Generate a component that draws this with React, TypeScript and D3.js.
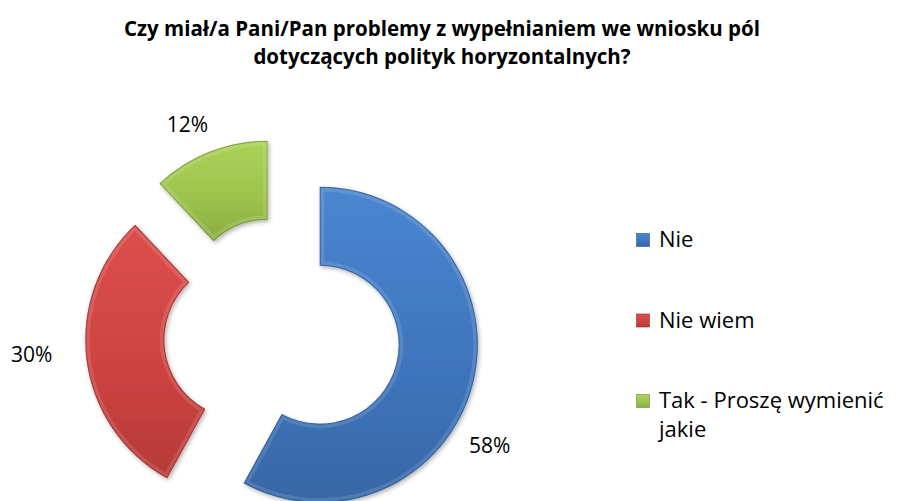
import { useEffect, useRef } from "react";
import * as d3 from "d3";

const categories = ["Nie", "Nie wiem", "Tak - Proszę wymienić jakie"];
const values = [58, 30, 12];
const labels = ["58%", "30%", "12%"];
const colors = ["#3e74bb", "#cc4240", "#9cc24b"];
const lightColors = ["#4a86d0", "#dc4f4c", "#abd35a"];
const darkColors = ["#2a548c", "#962a28", "#6b8a2a"];

const title = [
  "Czy miał/a Pani/Pan problemy z wypełnianiem we wniosku pól",
  "dotyczących polityk horyzontalnych?",
];

export default function App() {
  const svgRef = useRef<SVGSVGElement>(null);

  useEffect(() => {
    if (!svgRef.current) return;
    const width = 898;
    const height = 501;
    const cx = 282;
    const cy = 335;
    const outer = 158;
    const inner = 79;
    const explode = 39;
    // per-slice label placement (radius, angle nudge in radians)
    const labelRadius = [235, 251, 231];
    const labelShift = [0.236, 0.05, -0.045];
    const font = "'Open Sans', Lato, sans-serif";

    const svg = d3.select(svgRef.current);
    svg.selectAll("*").remove();
    svg.attr("width", width).attr("height", height);

    const defs = svg.append("defs");
    colors.forEach((c, i) => {
      const g = defs
        .append("linearGradient")
        .attr("id", `grad${i}`)
        .attr("x1", "0")
        .attr("y1", "0")
        .attr("x2", "0")
        .attr("y2", "1");
      g.append("stop").attr("offset", "0%").attr("stop-color", lightColors[i]);
      g.append("stop").attr("offset", "60%").attr("stop-color", c);
      g.append("stop").attr("offset", "100%").attr("stop-color", d3.color(c)!.darker(0.35).formatHex());
    });
    const shadow = defs
      .append("filter")
      .attr("id", "shadow")
      .attr("x", "-20%")
      .attr("y", "-20%")
      .attr("width", "140%")
      .attr("height", "140%");
    shadow
      .append("feDropShadow")
      .attr("dx", 1.5)
      .attr("dy", 2)
      .attr("stdDeviation", 2)
      .attr("flood-color", "#000")
      .attr("flood-opacity", 0.3);

    // title, two separate lines
    title.forEach((line, i) => {
      svg
        .append("text")
        .attr("text-anchor", "middle")
        .attr("font-family", font)
        .attr("font-weight", "bold")
        .attr("font-size", 20.5)
        .attr("fill", "#000")
        .attr("x", 442)
        .attr("y", 36 + i * 28)
        .text(line);
    });

    const pie = d3
      .pie<number>()
      .sort(null)
      .value((d) => d);
    const arcs = pie(values);
    const arc = d3.arc<d3.PieArcDatum<number>>().innerRadius(inner).outerRadius(outer);

    const g = svg.append("g").attr("transform", `translate(${cx},${cy})`);

    arcs.forEach((a, i) => {
      const mid = (a.startAngle + a.endAngle) / 2;
      const ox = Math.sin(mid) * explode;
      const oy = -Math.cos(mid) * explode;
      const sg = g.append("g").attr("transform", `translate(${ox},${oy})`);
      sg.append("path")
        .attr("d", arc(a) || "")
        .attr("fill", `url(#grad${i})`)
        .attr("filter", "url(#shadow)");
      // bevel: dark rim + soft light band inside
      const clipId = `clip${i}`;
      defs.append("clipPath").attr("id", clipId).append("path").attr("d", arc(a) || "");
      sg.append("path")
        .attr("d", arc(a) || "")
        .attr("fill", "none")
        .attr("stroke", "#fff")
        .attr("stroke-opacity", 0.12)
        .attr("stroke-width", 9)
        .attr("clip-path", `url(#${clipId})`);
      sg.append("path")
        .attr("d", arc(a) || "")
        .attr("fill", "none")
        .attr("stroke", darkColors[i])
        .attr("stroke-opacity", 0.7)
        .attr("stroke-width", 2)
        .attr("clip-path", `url(#${clipId})`);

      const la = mid + labelShift[i];
      g.append("text")
        .attr("x", Math.sin(la) * labelRadius[i])
        .attr("y", -Math.cos(la) * labelRadius[i])
        .attr("text-anchor", "middle")
        .attr("dominant-baseline", "central")
        .attr("font-family", font)
        .attr("font-size", 21)
        .attr("fill", "#000")
        .text(labels[i]);
    });

    // legend
    const legendY = d3.scalePoint<string>().domain(categories).range([247, 408]);
    categories.forEach((c, i) => {
      const y = legendY(c) || 0;
      const lg = svg.append("g");
      lg.append("rect")
        .attr("x", 636.5)
        .attr("y", y - 13.5)
        .attr("width", 13)
        .attr("height", 13)
        .attr("fill", `url(#grad${i})`)
        .attr("stroke", darkColors[i])
        .attr("stroke-width", 0.6);
      const words = c === "Tak - Proszę wymienić jakie" ? ["Tak - Proszę wymienić", "jakie"] : [c];
      const txt = lg
        .append("text")
        .attr("font-family", font)
        .attr("font-size", 22)
        .attr("fill", "#000");
      words.forEach((w, j) => {
        txt.append("tspan")
          .attr("x", 659)
          .attr("y", y + j * 29)
          .text(w);
      });
    });
  }, []);

  return (
    <svg
      ref={svgRef}
      style={{ position: "absolute", left: 0, top: 0, background: "#fff" }}
    ></svg>
  );
}
